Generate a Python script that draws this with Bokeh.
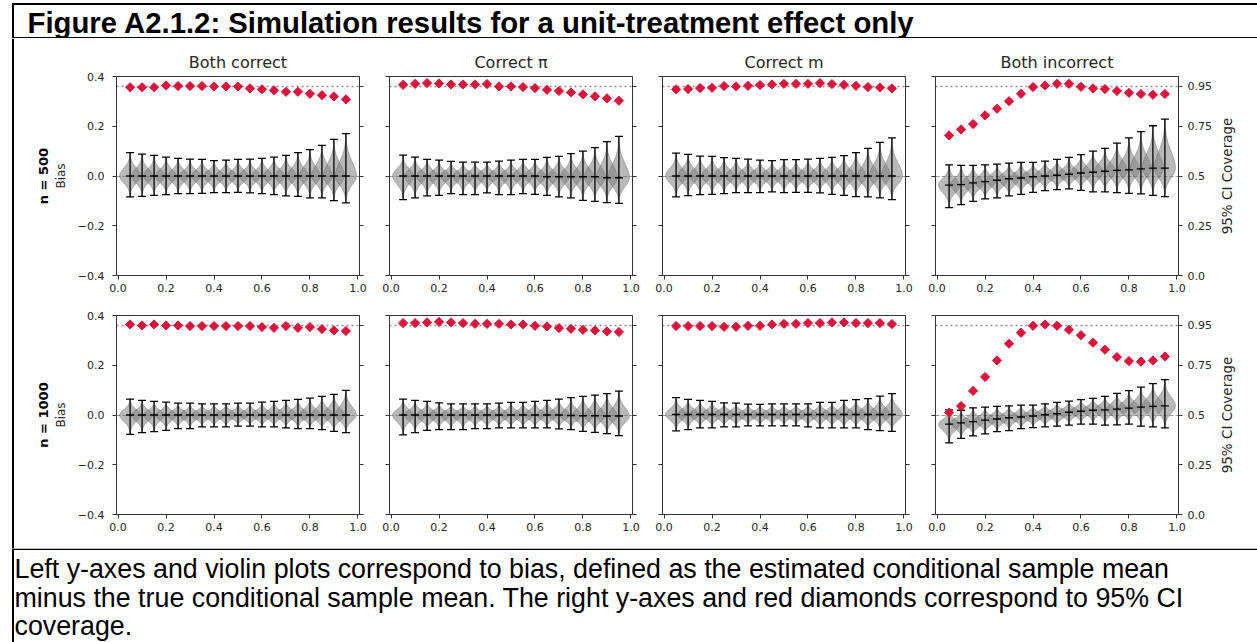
import numpy as np
from bokeh.plotting import figure
from bokeh.models import Range1d, LinearAxis, FixedTicker
from bokeh.layouts import row, column
from bokeh.embed import file_html
from bokeh.resources import INLINE
from bokeh.core.properties import value

# ---------------- data ----------------
figure_title = "Figure A2.1.2: Simulation results for a unit-treatment effect only"
caption_lines = [
    "Left y-axes and violin plots correspond to bias, defined as the estimated conditional sample mean",
    "minus the true conditional sample mean. The right y-axes and red diamonds correspond to 95% CI",
    "coverage.",
]
col_titles = ["Both correct", "Correct π", "Correct m", "Both incorrect"]
row_labels = ["n = 500", "n = 1000"]
bias_label = "Bias"
coverage_label = "95% CI Coverage"

x_pos = [0.05, 0.10, 0.15, 0.20, 0.25, 0.30, 0.35, 0.40, 0.45, 0.50,
         0.55, 0.60, 0.65, 0.70, 0.75, 0.80, 0.85, 0.90, 0.95]
x_ticks = [0.0, 0.2, 0.4, 0.6, 0.8, 1.0]
x_tick_labels = ["0.0", "0.2", "0.4", "0.6", "0.8", "1.0"]
bias_ticks = [-0.4, -0.2, 0.0, 0.2, 0.4]
bias_tick_labels = ["−0.4", "−0.2", "0.0", "0.2", "0.4"]
cov_ticks = [0.0, 0.25, 0.5, 0.75, 0.95]
cov_tick_labels = ["0.0", "0.25", "0.5", "0.75", "0.95"]
nominal_coverage = 0.95

# n = 500, both correct
mean_500_bc = [0.0, 0.0, 0.0, 0.0, 0.0, 0.0, 0.0, 0.0, 0.0, 0.0, 0.0, 0.0, 0.0, 0.0, 0.0, 0.0, 0.0, 0.0, 0.0]
lower_500_bc = [-0.084, -0.082, -0.078, -0.075, -0.071, -0.071, -0.070, -0.067, -0.067, -0.066, -0.068, -0.071, -0.075, -0.080, -0.082, -0.088, -0.088, -0.099, -0.108]
upper_500_bc = [0.094, 0.088, 0.083, 0.076, 0.071, 0.068, 0.067, 0.062, 0.064, 0.067, 0.068, 0.071, 0.076, 0.083, 0.094, 0.106, 0.123, 0.147, 0.170]
cov_500_bc = [0.946, 0.946, 0.946, 0.955, 0.952, 0.952, 0.952, 0.950, 0.950, 0.950, 0.940, 0.936, 0.931, 0.923, 0.923, 0.913, 0.906, 0.900, 0.885]

# n = 500, correct pi
mean_500_cp = [0.0, 0.0, 0.0, 0.0, 0.0, 0.0, 0.0, 0.0, 0.0, 0.0, 0.0, 0.0, -0.003, -0.003, -0.003, -0.003, -0.003, -0.007, -0.007]
lower_500_cp = [-0.095, -0.088, -0.080, -0.078, -0.071, -0.075, -0.075, -0.068, -0.075, -0.075, -0.071, -0.074, -0.078, -0.084, -0.088, -0.098, -0.102, -0.107, -0.110]
upper_500_cp = [0.084, 0.076, 0.067, 0.064, 0.059, 0.056, 0.056, 0.056, 0.060, 0.064, 0.067, 0.067, 0.075, 0.079, 0.090, 0.100, 0.114, 0.138, 0.159]
cov_500_cp = [0.958, 0.963, 0.967, 0.965, 0.960, 0.960, 0.960, 0.962, 0.950, 0.950, 0.947, 0.942, 0.933, 0.927, 0.920, 0.910, 0.900, 0.890, 0.878]

# n = 500, correct m
mean_500_cm = [0.0, 0.0, 0.0, 0.0, 0.0, 0.0, 0.0, 0.0, 0.0, 0.0, 0.0, 0.0, 0.0, 0.0, 0.0, 0.0, 0.0, 0.0, 0.0]
lower_500_cm = [-0.084, -0.079, -0.075, -0.074, -0.071, -0.067, -0.067, -0.067, -0.064, -0.067, -0.066, -0.066, -0.068, -0.074, -0.078, -0.083, -0.084, -0.088, -0.095]
upper_500_cm = [0.092, 0.087, 0.080, 0.079, 0.074, 0.071, 0.068, 0.064, 0.062, 0.066, 0.066, 0.068, 0.071, 0.075, 0.082, 0.094, 0.111, 0.135, 0.153]
cov_500_cm = [0.935, 0.937, 0.942, 0.943, 0.952, 0.950, 0.953, 0.957, 0.960, 0.963, 0.963, 0.963, 0.967, 0.962, 0.958, 0.953, 0.947, 0.945, 0.940]

# n = 500, both incorrect
mean_500_bi = [-0.037, -0.035, -0.028, -0.023, -0.017, -0.011, -0.008, -0.003, 0.000, 0.003, 0.007, 0.012, 0.015, 0.019, 0.023, 0.025, 0.029, 0.032, 0.032]
lower_500_bi = [-0.127, -0.115, -0.102, -0.092, -0.088, -0.080, -0.074, -0.066, -0.059, -0.055, -0.052, -0.058, -0.064, -0.064, -0.067, -0.070, -0.072, -0.078, -0.083]
upper_500_bi = [0.045, 0.043, 0.043, 0.045, 0.048, 0.052, 0.055, 0.055, 0.060, 0.067, 0.075, 0.086, 0.100, 0.111, 0.132, 0.153, 0.178, 0.202, 0.229]
cov_500_bi = [0.704, 0.734, 0.761, 0.805, 0.838, 0.876, 0.913, 0.947, 0.955, 0.963, 0.963, 0.948, 0.940, 0.937, 0.927, 0.918, 0.912, 0.908, 0.912]

# n = 1000, both correct
mean_1000_bc = [0.0, 0.0, 0.0, 0.0, 0.0, 0.0, 0.0, 0.0, 0.0, 0.0, 0.0, 0.0, 0.0, 0.0, 0.0, 0.0, 0.0, 0.0, 0.0]
lower_1000_bc = [-0.078, -0.071, -0.067, -0.062, -0.055, -0.055, -0.048, -0.048, -0.048, -0.045, -0.045, -0.048, -0.048, -0.052, -0.055, -0.055, -0.059, -0.066, -0.071]
upper_1000_bc = [0.064, 0.059, 0.055, 0.052, 0.048, 0.048, 0.045, 0.045, 0.045, 0.048, 0.048, 0.052, 0.055, 0.059, 0.063, 0.068, 0.075, 0.083, 0.099]
cov_1000_bc = [0.955, 0.950, 0.955, 0.950, 0.950, 0.947, 0.947, 0.947, 0.947, 0.947, 0.947, 0.942, 0.938, 0.947, 0.938, 0.942, 0.932, 0.925, 0.922]

# n = 1000, correct pi
mean_1000_cp = [0.0, 0.0, 0.0, 0.0, 0.0, 0.0, 0.0, 0.0, 0.0, 0.0, 0.0, 0.0, 0.0, 0.0, -0.002, -0.003, -0.003, -0.004, -0.004]
lower_1000_cp = [-0.080, -0.071, -0.062, -0.059, -0.059, -0.059, -0.055, -0.055, -0.052, -0.052, -0.052, -0.052, -0.052, -0.056, -0.059, -0.066, -0.070, -0.075, -0.083]
upper_1000_cp = [0.064, 0.059, 0.055, 0.049, 0.045, 0.045, 0.045, 0.045, 0.048, 0.051, 0.051, 0.055, 0.059, 0.064, 0.070, 0.075, 0.080, 0.086, 0.096]
cov_1000_cp = [0.962, 0.962, 0.965, 0.968, 0.965, 0.962, 0.958, 0.958, 0.958, 0.955, 0.955, 0.948, 0.945, 0.937, 0.933, 0.928, 0.925, 0.920, 0.917]

# n = 1000, correct m
mean_1000_cm = [0.002, 0.002, 0.002, 0.002, 0.002, 0.002, 0.002, 0.002, 0.002, 0.002, 0.002, 0.002, 0.002, 0.002, 0.002, 0.002, 0.002, 0.002, 0.002]
lower_1000_cm = [-0.064, -0.059, -0.052, -0.052, -0.048, -0.048, -0.044, -0.044, -0.044, -0.044, -0.044, -0.048, -0.052, -0.052, -0.052, -0.052, -0.059, -0.063, -0.066]
upper_1000_cm = [0.070, 0.063, 0.059, 0.055, 0.049, 0.048, 0.044, 0.043, 0.045, 0.045, 0.045, 0.045, 0.051, 0.051, 0.059, 0.062, 0.066, 0.076, 0.086]
cov_1000_cm = [0.947, 0.947, 0.947, 0.947, 0.943, 0.943, 0.948, 0.948, 0.955, 0.958, 0.958, 0.962, 0.962, 0.965, 0.965, 0.962, 0.962, 0.962, 0.957]

# n = 1000, both incorrect
mean_1000_bi = [-0.037, -0.032, -0.027, -0.021, -0.016, -0.011, -0.008, -0.004, 0.001, 0.005, 0.011, 0.015, 0.019, 0.021, 0.024, 0.028, 0.032, 0.035, 0.037]
lower_1000_bi = [-0.112, -0.094, -0.084, -0.076, -0.067, -0.063, -0.055, -0.051, -0.048, -0.045, -0.041, -0.037, -0.037, -0.041, -0.040, -0.037, -0.045, -0.048, -0.052]
upper_1000_bi = [0.021, 0.019, 0.029, 0.032, 0.035, 0.037, 0.040, 0.040, 0.045, 0.051, 0.056, 0.062, 0.067, 0.075, 0.087, 0.098, 0.112, 0.126, 0.142]
cov_1000_bi = [0.512, 0.545, 0.621, 0.691, 0.774, 0.858, 0.913, 0.948, 0.955, 0.948, 0.928, 0.901, 0.863, 0.828, 0.791, 0.771, 0.768, 0.774, 0.794]

panels = [
    [(mean_500_bc, lower_500_bc, upper_500_bc, cov_500_bc),
     (mean_500_cp, lower_500_cp, upper_500_cp, cov_500_cp),
     (mean_500_cm, lower_500_cm, upper_500_cm, cov_500_cm),
     (mean_500_bi, lower_500_bi, upper_500_bi, cov_500_bi)],
    [(mean_1000_bc, lower_1000_bc, upper_1000_bc, cov_1000_bc),
     (mean_1000_cp, lower_1000_cp, upper_1000_cp, cov_1000_cp),
     (mean_1000_cm, lower_1000_cm, upper_1000_cm, cov_1000_cm),
     (mean_1000_bi, lower_1000_bi, upper_1000_bi, cov_1000_bi)],
]

# ---------------- styling / layout ----------------
TXT = "#262626"
AX = "#333333"
TICK_FONT = "DejaVu Sans"
FRAME_H = 199
fig_widths = [359, 273, 273, 300]
fig_heights = [262, 248]
mb_left = [102, 16, 16, 16]
mb_right = [14, 14, 14, 41]
mb_top = [38, 15]
mb_bottom = [25, 34]
LABEL_STRIP_W = 38
LABEL_X = 7
VIOLIN_HALF_WIDTH = 0.044


def style_axis(ax):
    ax.major_tick_out = 4
    ax.major_tick_in = 0
    ax.minor_tick_out = 0
    ax.minor_tick_in = 0
    ax.major_tick_line_color = AX
    ax.axis_line_color = AX
    ax.major_label_text_font = TICK_FONT
    ax.major_label_text_font_size = "11px"
    ax.major_label_text_color = TXT
    ax.axis_label_text_font = TICK_FONT
    ax.axis_label_text_font_style = "normal"
    ax.axis_label_text_color = TXT


def violin_shapes(mean, lower, upper):
    xs, ys = [], []
    for x0, m, lo, hi in zip(x_pos, mean, lower, upper):
        s_up = max(hi - m, 1e-6) / 3.0
        s_dn = max(m - lo, 1e-6) / 3.0
        yy = np.concatenate([np.linspace(lo, m, 30), np.linspace(m, hi, 30)[1:]])
        z = np.where(yy >= m, (yy - m) / s_up, (yy - m) / s_dn)
        w = VIOLIN_HALF_WIDTH * np.exp(-0.5 * z ** 2)
        xs.append([float(v) for v in np.concatenate([x0 + w, (x0 - w)[::-1]])])
        ys.append([float(v) for v in np.concatenate([yy, yy[::-1]])])
    return xs, ys


def make_panel(r, c):
    mean, lower, upper, cov = panels[r][c]
    p = figure(width=fig_widths[c], height=fig_heights[r],
               title=(col_titles[c] if r == 0 else None),
               x_range=Range1d(-0.0067, 1.0067), y_range=Range1d(-0.4, 0.4),
               output_backend="svg", toolbar_location=None, tools="",
               min_border_left=mb_left[c], min_border_right=mb_right[c],
               min_border_top=mb_top[r], min_border_bottom=mb_bottom[r])
    if r == 0:
        p.title.align = "center"
        p.title.text_font = TICK_FONT
        p.title.text_font_size = "16px"
        p.title.text_font_style = "normal"
        p.title.text_color = TXT
        p.title.standoff = 9
    p.extra_y_ranges = {"cov": Range1d(0.0, 1.0)}
    p.grid.visible = False
    p.outline_line_color = AX
    p.outline_line_width = 1
    p.background_fill_color = "white"
    p.border_fill_color = "white"

    # x axis
    xa = p.xaxis[0]
    xa.ticker = FixedTicker(ticks=x_ticks)
    style_axis(xa)
    xa.major_label_overrides = dict(zip(x_ticks, x_tick_labels))
    xa.major_label_standoff = 4

    # left bias axis
    ya = p.yaxis[0]
    ya.ticker = FixedTicker(ticks=bias_ticks)
    style_axis(ya)
    if c == 0:
        ya.major_label_overrides = dict(zip(bias_ticks, bias_tick_labels))
        ya.major_label_standoff = 8
        ya.axis_label = bias_label
        ya.axis_label_text_font_size = "12px"
        ya.axis_label_standoff = 7
        outer = LinearAxis(ticker=FixedTicker(ticks=[]), axis_label=row_labels[r])
        outer.axis_line_color = None
        outer.major_tick_out = 0
        outer.major_label_standoff = 0
        outer.axis_label_standoff = 0
        outer.axis_label_text_font = TICK_FONT
        outer.axis_label_text_font_style = "bold"
        outer.axis_label_text_font_size = "13px"
        outer.axis_label_text_color = "black"
        p.add_layout(outer, "left")
    else:
        ya.major_label_overrides = {t: "" for t in bias_ticks}
        ya.major_label_standoff = 0

    # right coverage axis
    ra = LinearAxis(y_range_name="cov", ticker=FixedTicker(ticks=cov_ticks))
    style_axis(ra)
    if c == 3:
        ra.major_label_overrides = dict(zip(cov_ticks, cov_tick_labels))
        ra.major_label_standoff = 5
    else:
        ra.major_label_overrides = {t: "" for t in cov_ticks}
        ra.major_label_standoff = 0
    p.add_layout(ra, "right")

    # reference lines
    p.hspan(y=[0.0], line_color="grey", line_dash="4 2", line_width=1.2, line_alpha=0.8)
    p.hspan(y=[nominal_coverage], y_range_name="cov", line_color="grey",
            line_dash="2 3", line_width=1.5, line_alpha=0.9)

    # violins
    vx, vy = violin_shapes(mean, lower, upper)
    p.patches(vx, vy, fill_color="grey", fill_alpha=0.55,
              line_color="#555555", line_alpha=0.5, line_width=0.7)

    # extrema bars and mean marks
    p.segment(x0=x_pos, y0=lower, x1=x_pos, y1=upper, line_color="black", line_width=1.3)
    for yy in (lower, upper, mean):
        p.scatter(x=x_pos, y=yy, marker="dash", size=8, line_color="black", line_width=1.3)

    # coverage diamonds
    p.scatter(x=x_pos, y=cov, y_range_name="cov", marker="square", angle=np.pi / 4,
              size=6.5, fill_color="#DC143C", line_color="#DC143C")
    return p


def deco_fig(w, h):
    p = figure(width=w, height=h, x_range=Range1d(0, w), y_range=Range1d(0, h),
               x_axis_type=None, y_axis_type=None, title=None,
               output_backend="svg", toolbar_location=None, tools="", min_border=0)
    p.grid.visible = False
    p.outline_line_color = None
    return p


# title strip
title_fig = deco_fig(1257, 38)
title_fig.segment(x0=[12.5, 11.5, 11.5], y0=[0, 34.5, 0.75],
                  x1=[12.5, 1257, 1257], y1=[35.5, 34.5, 0.75],
                  line_color="black", line_width=[2, 2, 1.5])
title_fig.text(x=[27], y=[16], text=[figure_title], text_font=value("Liberation Sans"),
               text_font_style="bold", text_font_size="29.3px", text_color="black",
               text_baseline="middle")

# left border of the middle strip
border_fig = deco_fig(14, 510)
border_fig.segment(x0=[12.5], y0=[0], x1=[12.5], y1=[510], line_color="black", line_width=2)

# right-axis label strips (one per row)
label_figs = []
for r in range(2):
    h = fig_heights[r]
    lf = deco_fig(LABEL_STRIP_W, h)
    lf.text(x=[LABEL_X], y=[h - mb_top[r] - FRAME_H / 2.0], text=[coverage_label],
            angle=np.pi / 2, text_font=value(TICK_FONT), text_font_size="13.5px",
            text_color=TXT, text_align="center", text_baseline="middle")
    label_figs.append(lf)

# caption strip
cap_fig = deco_fig(1257, 94)
cap_fig.segment(x0=[12.5, 11.5], y0=[0, 93.25], x1=[12.5, 1257], y1=[94, 93.25],
                line_color="black", line_width=[2, 1.5])
cap_fig.text(x=[14, 14, 14], y=[74, 45, 17], text=caption_lines,
             text_font=value("Liberation Sans"), text_font_size="26.8px",
             text_color="black", text_baseline="middle")

cols = []
for c in range(4):
    cols.append(column(make_panel(0, c), make_panel(1, c)))
cols.append(column(*label_figs))

layout = column(title_fig, row(border_fig, *cols), cap_fig)

open("out.html", "w").write(file_html(layout, INLINE))
